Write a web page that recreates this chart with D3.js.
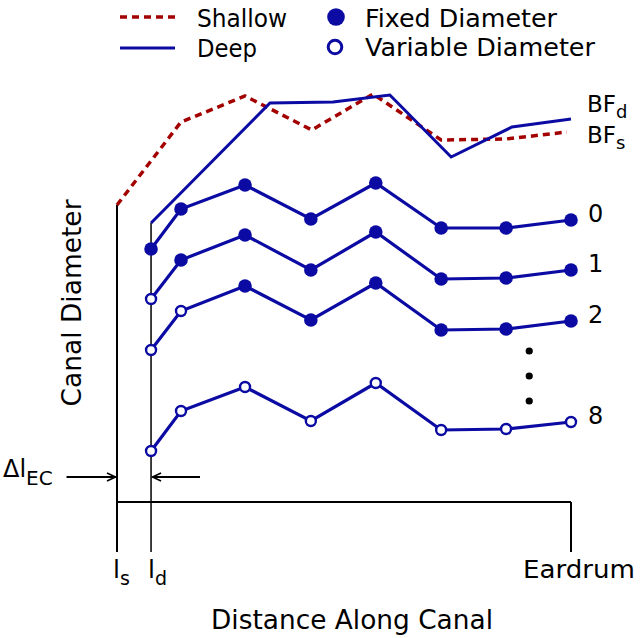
<!DOCTYPE html>
<html><head><meta charset="utf-8">
<script src="https://cdn.jsdelivr.net/npm/d3@7"></script>
<style>
html,body{margin:0;padding:0;background:#fff;}
svg{display:block;}
text{font-family:"DejaVu Sans",sans-serif;fill:#000;}
</style>
</head><body>
<svg id="c" width="641" height="638"></svg>
<script>
// ---- data (arbitrary units: distance 0..100 along canal, diameter units) ----
const positions = [7.5, 14.1, 28.2, 42.7, 57.0, 71.4, 85.7, 100];
const seriesLabels = ["0", "1", "2", "8"];
const series0 = [25.3, 29.3, 31.7, 28.3, 31.9, 27.4, 27.4, 28.2];
const series1 = [20.3, 24.2, 26.7, 23.2, 27.0, 22.3, 22.4, 23.2];
const series2 = [15.2, 19.1, 21.6, 18.2, 21.9, 17.2, 17.3, 18.1];
const series8 = [5.1, 9.1, 11.5, 8.1, 11.9, 7.2, 7.3, 8.0];
const variableCounts = [0, 1, 2, 8];   // leading points with variable diameter
const deepX = [7.5, 33.7, 47.6, 60.1, 73.6, 87.0, 100];
const deepY = [27.9, 39.9, 40.0, 40.7, 34.5, 37.5, 38.3];
const shallowX = [0, 14.1, 28.2, 42.9, 56.4, 71.4, 85.7, 99.1];
const shallowY = [29.7, 38.0, 40.6, 37.2, 40.8, 36.2, 36.3, 37.0];
const ellipsisY = [15.1, 12.6, 10.1];
const ellipsisX = 90.8;
const axisBottom = -5;
const arrowY = 2.5;

const BLUE = "#0b0ba3", RED = "#a30000";
const svg = d3.select("#c");
const x = d3.scaleLinear().domain([0, 100]).range([117, 571]);
const y = d3.scaleLinear().domain([0, 30]).range([502, 202]);

const allSeries = [series0, series1, series2, series8];

// ---- axes / reference lines ----
const g = svg.append("g");
g.append("line").attr("x1", x(0)).attr("x2", x(0)).attr("y1", y(shallowY[0])).attr("y2", y(axisBottom))
  .attr("stroke", "#000").attr("stroke-width", 2);
g.append("line").attr("x1", x(deepX[0])).attr("x2", x(deepX[0])).attr("y1", y(deepY[0])).attr("y2", y(axisBottom))
  .attr("stroke", "#000").attr("stroke-width", 1.5);
g.append("line").attr("x1", x(0)).attr("x2", x(100)).attr("y1", y(0)).attr("y2", y(0))
  .attr("stroke", "#000").attr("stroke-width", 2);
g.append("line").attr("x1", x(100)).attr("x2", x(100)).attr("y1", y(0)).attr("y2", y(axisBottom))
  .attr("stroke", "#000").attr("stroke-width", 2);

// arrows
const ay = y(arrowY);
g.append("line").attr("x1", 66.5).attr("x2", x(0) - 1.5).attr("y1", ay).attr("y2", ay).attr("stroke", "#000").attr("stroke-width", 1.8);
g.append("path").attr("d", `M${x(0) - 10},${ay - 4}L${x(0) - 1.5},${ay}L${x(0) - 10},${ay + 4}`)
  .attr("fill", "none").attr("stroke", "#000").attr("stroke-width", 1.6);
g.append("line").attr("x1", 200).attr("x2", x(deepX[0]) + 1.5).attr("y1", ay).attr("y2", ay).attr("stroke", "#000").attr("stroke-width", 1.8);
g.append("path").attr("d", `M${x(deepX[0]) + 10},${ay - 4}L${x(deepX[0]) + 1.5},${ay}L${x(deepX[0]) + 10},${ay + 4}`)
  .attr("fill", "none").attr("stroke", "#000").attr("stroke-width", 1.6);

// ---- shallow & deep lines ----
const line = d3.line().x(d => x(d[0])).y(d => y(d[1])).curve(d3.curveLinear);
svg.append("path").datum(shallowX.map((v, i) => [v, shallowY[i]])).attr("d", line)
  .attr("fill", "none").attr("stroke", RED).attr("stroke-width", 3.5).attr("stroke-dasharray", "7,5");
svg.append("path").datum(deepX.map((v, i) => [v, deepY[i]])).attr("d", line)
  .attr("fill", "none").attr("stroke", BLUE).attr("stroke-width", 3);

// ---- series ----
allSeries.forEach((s, k) => {
  const pts = positions.map((p, i) => [p, s[i]]);
  svg.append("path").datum(pts).attr("d", line)
    .attr("fill", "none").attr("stroke", BLUE).attr("stroke-width", 3.2);
  svg.append("g").selectAll("circle").data(pts).join("circle")
    .attr("cx", d => x(d[0])).attr("cy", d => y(d[1]))
    .attr("r", (d, i) => i < variableCounts[k] ? 5 : 6.8)
    .attr("fill", (d, i) => i < variableCounts[k] ? "#fff" : BLUE)
    .attr("stroke", BLUE)
    .attr("stroke-width", (d, i) => i < variableCounts[k] ? 2.4 : 0);
  svg.append("text").attr("x", x(100) + 17).attr("y", y(s[s.length - 1]) + 2)
    .attr("font-size", 24).text(seriesLabels[k]);
});

// ellipsis dots
svg.append("g").selectAll("circle").data(ellipsisY).join("circle")
  .attr("cx", x(ellipsisX)).attr("cy", d => y(d)).attr("r", 3.6).attr("fill", "#000");

// ---- right labels ----
function sub(main, s, xx, yy, fs, sfs, dy) {
  const tx = svg.append("text").attr("x", xx).attr("y", yy).attr("font-size", fs);
  tx.append("tspan").text(main);
  tx.append("tspan").attr("font-size", sfs).attr("dy", dy).text(s);
  return tx;
}
sub("BF", "d", 587, 112, 23, 18, 6);
sub("BF", "s", 587, 143, 23, 18, 6);

// ---- legend ----
svg.append("line").attr("x1", 120).attr("x2", 175).attr("y1", 17).attr("y2", 17)
  .attr("stroke", RED).attr("stroke-width", 3.5).attr("stroke-dasharray", "7,5");
svg.append("line").attr("x1", 120).attr("x2", 175).attr("y1", 48).attr("y2", 48)
  .attr("stroke", BLUE).attr("stroke-width", 3);
svg.append("circle").attr("cx", 336).attr("cy", 17).attr("r", 8.8).attr("fill", BLUE);
svg.append("circle").attr("cx", 335).attr("cy", 47).attr("r", 6.8).attr("fill", "#fff")
  .attr("stroke", BLUE).attr("stroke-width", 3);
svg.append("text").attr("x", 197).attr("y", 27).attr("font-size", 24)
  .attr("textLength", 90).attr("lengthAdjust", "spacingAndGlyphs").text("Shallow");
svg.append("text").attr("x", 197).attr("y", 57).attr("font-size", 24)
  .attr("textLength", 60).attr("lengthAdjust", "spacingAndGlyphs").text("Deep");
svg.append("text").attr("x", 365).attr("y", 27).attr("font-size", 24)
  .attr("textLength", 192).attr("lengthAdjust", "spacingAndGlyphs").text("Fixed Diameter");
svg.append("text").attr("x", 365).attr("y", 56).attr("font-size", 24)
  .attr("textLength", 230).attr("lengthAdjust", "spacingAndGlyphs").text("Variable Diameter");

// ---- axis labels ----
svg.append("text").attr("transform", "translate(81,303) rotate(-90)").attr("text-anchor", "middle")
  .attr("font-size", 26).attr("textLength", 207).attr("lengthAdjust", "spacingAndGlyphs").text("Canal Diameter");
svg.append("text").attr("x", 211).attr("y", 629).attr("font-size", 26)
  .attr("textLength", 282).attr("lengthAdjust", "spacingAndGlyphs").text("Distance Along Canal");
svg.append("text").attr("x", 523).attr("y", 578).attr("font-size", 25)
  .attr("textLength", 112).attr("lengthAdjust", "spacingAndGlyphs").text("Eardrum");
sub("l", "s", 113, 578, 25, 19, 7);
sub("l", "d", 148, 578, 25, 19, 7);
sub("Δl", "EC", 3, 477, 24, 20, 8);
</script>
</body></html>
